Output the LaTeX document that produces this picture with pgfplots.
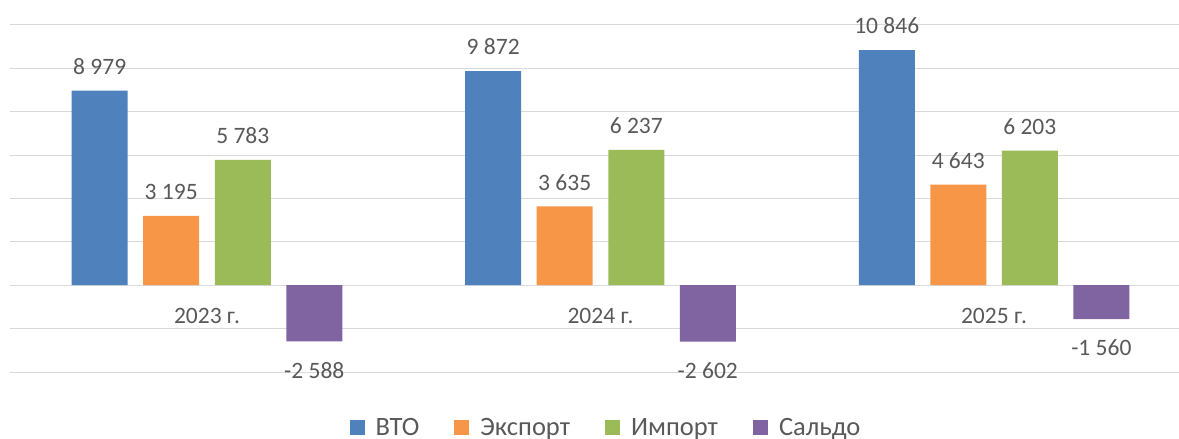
\documentclass[border=0pt]{standalone}
\usepackage{pgfplots}
\pgfplotsset{compat=1.18}
\usepackage{fontspec}
\setmainfont{Carlito}
\definecolor{cBlue}{HTML}{4F81BD}
\definecolor{cOrange}{HTML}{F79646}
\definecolor{cGreen}{HTML}{9BBB59}
\definecolor{cPurple}{HTML}{8064A2}
\definecolor{txt}{HTML}{595959}
\definecolor{gridc}{HTML}{D9D9D9}
\newcommand\lblfont{\fontsize{23.5bp}{28bp}\selectfont}
\newcommand\legfont{\fontsize{26.5bp}{32bp}\selectfont}
\begin{document}
\begin{tikzpicture}
\useasboundingbox (0,0) rectangle (1179bp,439bp);
\begin{axis}[
  at={(10bp,67bp)}, anchor=south west, scale only axis,
  width=1169bp, height=347bp,
  xmin=-0.5006, xmax=2.470, ymin=-4000, ymax=12000,
  ytick={-4000,-2000,0,2000,4000,6000,8000,10000,12000},
  yticklabels={}, scaled y ticks=false,
  ymajorgrids, major grid style={draw=gridc, line width=1bp},
  axis line style={draw=none}, tick style={draw=none},
  xtick={0,1,2}, xticklabels={2023 г.,2024 г.,2025 г.},
  xticklabel style={font=\lblfont, text=txt, anchor=center, yshift=56bp},
  point meta=y,
  nodes near coords={\pgfmathprintnumber[1000 sep={\ }, assume math mode=true]{\pgfplotspointmeta}},
  nodes near coords align={vertical},
  every node near coord/.append style={font=\lblfont, text=txt, inner xsep=1bp, inner ysep=16bp},
  legend columns=4,
  legend style={at={(0.509,-0.161)}, anchor=center, draw=none, fill=none, font=\legfont, text=txt,
    nodes={inner xsep=0bp, inner ysep=2bp},
    /tikz/every odd column/.append style={column sep=11bp},
    /tikz/every even column/.append style={column sep=35bp}},
  clip=false,
]
\addplot[ybar, bar width=0.1423, bar shift=-0.2726, fill=cBlue, draw=none,
  every node near coord/.append style={xshift=-107.3bp},
  legend image code/.code={\fill[cBlue] (0bp,-7.5bp) rectangle (15bp,7.5bp);}]
  coordinates {(0,8979) (1,9872) (2,10846)};
\addlegendentry{ВТО}
\addplot[ybar, bar width=0.1423, bar shift=-0.0909, fill=cOrange, draw=none,
  every node near coord/.append style={xshift=-35.8bp},
  legend image code/.code={\fill[cOrange] (0bp,-7.5bp) rectangle (15bp,7.5bp);}]
  coordinates {(0,3195) (1,3635) (2,4643)};
\addlegendentry{Экспорт}
\addplot[ybar, bar width=0.1423, bar shift=0.0909, fill=cGreen, draw=none,
  every node near coord/.append style={xshift=35.8bp},
  legend image code/.code={\fill[cGreen] (0bp,-7.5bp) rectangle (15bp,7.5bp);}]
  coordinates {(0,5783) (1,6237) (2,6203)};
\addlegendentry{Импорт}
\addplot[ybar, bar width=0.1423, bar shift=0.2726, fill=cPurple, draw=none,
  every node near coord/.append style={xshift=107.3bp, inner ysep=20.5bp},
  legend image code/.code={\fill[cPurple] (0bp,-7.5bp) rectangle (15bp,7.5bp);}]
  coordinates {(0,-2588) (1,-2602) (2,-1560)};
\addlegendentry{Сальдо}
\end{axis}
\end{tikzpicture}
\end{document}
